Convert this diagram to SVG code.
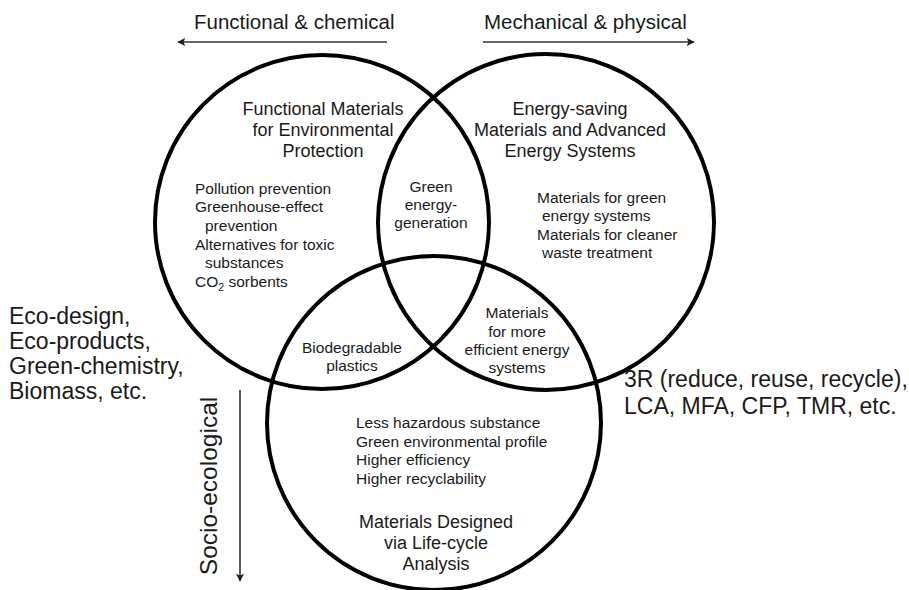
<svg xmlns="http://www.w3.org/2000/svg" width="909" height="590" viewBox="0 0 909 590">
  <style>
    text { font-family: "Liberation Sans", Arial, sans-serif; fill: #1a1a1a; }
    .axis { font-size: 20.5px; }
    .side { font-size: 23px; }
    .title { font-size: 18px; text-anchor: middle; }
    .item { font-size: 15.5px; }
    .mid { font-size: 15.5px; text-anchor: middle; }
    .ring { fill: none; stroke: #000; stroke-width: 4; }
    .arrow { stroke: #333; stroke-width: 1.6; fill: none; }
  </style>
  <defs>
    <marker id="head" viewBox="0 0 10 10" refX="9" refY="5" markerWidth="9" markerHeight="8" markerUnits="userSpaceOnUse" orient="auto">
      <path d="M0,0 L10,5 L0,10 L2,5 z" fill="#222"/>
    </marker>
  </defs>
  <rect width="909" height="590" fill="#fff"/>

  <!-- direction axes -->
  <g id="connectors">
    <line class="arrow" x1="387" y1="42" x2="178" y2="42" marker-end="url(#head)"/>
    <line class="arrow" x1="483" y1="42" x2="694" y2="42" marker-end="url(#head)"/>
    <line class="arrow" x1="240" y1="390" x2="240" y2="581" marker-end="url(#head)"/>
  </g>

  <g id="axis-labels">
    <text class="axis" x="194" y="29">Functional &amp; chemical</text>
    <text class="axis" x="484" y="29">Mechanical &amp; physical</text>
    <text class="side" style="font-size:24.5px" transform="translate(217,486) rotate(-90)" text-anchor="middle">Socio-ecological</text>
  </g>

  <!-- the three overlapping fields -->
  <g id="circle-functional">
    <circle class="ring" cx="322" cy="222" r="167"/>
    <text class="title" x="323" y="115">Functional Materials</text>
    <text class="title" x="323" y="136">for Environmental</text>
    <text class="title" x="323" y="157">Protection</text>
    <text class="item" x="195" y="194">Pollution prevention</text>
    <text class="item" x="195" y="212">Greenhouse-effect</text>
    <text class="item" x="205" y="231">prevention</text>
    <text class="item" x="195" y="250">Alternatives for toxic</text>
    <text class="item" x="205" y="268">substances</text>
    <text class="item" x="195" y="287">CO<tspan font-size="10.5px" dy="4">2</tspan><tspan dy="-4"> sorbents</tspan></text>
  </g>

  <g id="circle-energy">
    <circle class="ring" cx="546" cy="222" r="168"/>
    <text class="title" x="570" y="115">Energy-saving</text>
    <text class="title" x="570" y="136">Materials and Advanced</text>
    <text class="title" x="570" y="157">Energy Systems</text>
    <text class="item" x="537" y="203">Materials for green</text>
    <text class="item" x="542" y="221">energy systems</text>
    <text class="item" x="537" y="240">Materials for cleaner</text>
    <text class="item" x="542" y="258">waste treatment</text>
  </g>

  <g id="circle-lifecycle">
    <circle class="ring" cx="434" cy="423" r="167"/>
    <text class="item" x="356" y="428">Less hazardous substance</text>
    <text class="item" x="356" y="447">Green environmental profile</text>
    <text class="item" x="356" y="465">Higher efficiency</text>
    <text class="item" x="356" y="484">Higher recyclability</text>
    <text class="title" x="436" y="528">Materials Designed</text>
    <text class="title" x="436" y="549">via Life-cycle</text>
    <text class="title" x="436" y="570">Analysis</text>
  </g>

  <!-- overlap labels -->
  <g id="overlap-green-energy">
    <text class="mid" x="431" y="192">Green</text>
    <text class="mid" x="431" y="210">energy-</text>
    <text class="mid" x="431" y="228">generation</text>
  </g>
  <g id="overlap-biodegradable">
    <text class="mid" x="352" y="353">Biodegradable</text>
    <text class="mid" x="352" y="371">plastics</text>
  </g>
  <g id="overlap-efficient-energy">
    <text class="mid" x="517" y="318">Materials</text>
    <text class="mid" x="517" y="337">for more</text>
    <text class="mid" x="517" y="355">efficient energy</text>
    <text class="mid" x="517" y="373">systems</text>
  </g>

  <!-- surrounding notes -->
  <g id="note-eco">
    <text class="side" x="9" y="324">Eco-design,</text>
    <text class="side" x="9" y="349">Eco-products,</text>
    <text class="side" x="9" y="374">Green-chemistry,</text>
    <text class="side" x="9" y="399">Biomass, etc.</text>
  </g>
  <g id="note-3r">
    <text class="side" x="624" y="387">3R (reduce, reuse, recycle),</text>
    <text class="side" x="624" y="414">LCA, MFA, CFP, TMR, etc.</text>
  </g>
</svg>
